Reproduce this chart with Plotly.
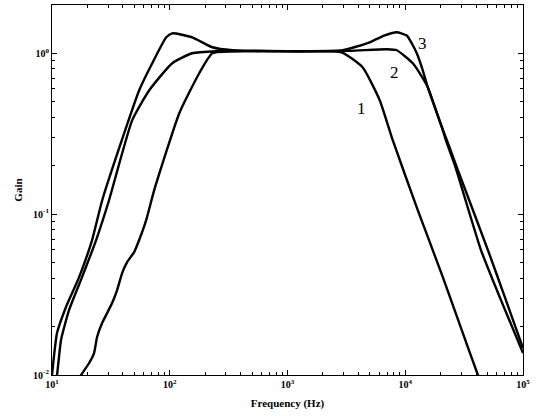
import math
import plotly.graph_objects as go

# Curve 1 (narrowest band)
f1 = [16.5, 17.66, 20.66, 22.77, 24.14, 26.66, 29.39, 32.4, 35.73, 39.4, 43.45, 49.86, 54.98, 63.07, 73.8,
      120.5, 178, 230, 390, 1260, 2880, 4340, 6070, 7830, 12770, 20850, 30830, 41400, 45000]
g1 = [0.0092, 0.01, 0.01187, 0.0137, 0.01722, 0.02104, 0.02427, 0.028, 0.03373, 0.04303, 0.05035, 0.05808, 0.069, 0.0918, 0.141,
      0.424, 0.751, 1.0, 1.03, 1.03, 1.014, 0.818, 0.511, 0.288, 0.106, 0.0406, 0.0182, 0.01, 0.0085]

# Curve 2
f2 = [10.5, 11.03, 11.93, 13.95, 18.0, 23.7, 30.5, 48, 67, 105, 155, 249, 1260, 3370, 6970,
      8470, 11590, 14090, 15530, 20460, 23930, 27990, 50350, 71590, 100000]
g2 = [0.0085, 0.01, 0.0165, 0.0253, 0.0406, 0.069, 0.122, 0.384, 0.589, 0.867, 1.0, 1.03, 1.03, 1.035, 1.059,
      1.044, 0.867, 0.70, 0.615, 0.347, 0.257, 0.1877, 0.0598, 0.0292, 0.01472]

# Curve 3 (widest band, peaked)
f3 = [9.8, 10.0, 11.03, 13.15, 17.0, 21.9, 26.7, 42.7, 55, 71, 93.4, 105, 155, 230, 340, 1260, 2940,
      4990, 6700, 8470, 10300, 11350, 12530, 14090, 15530, 20460, 22130, 26370, 43950, 65020, 100000]
g3 = [0.0085, 0.01, 0.01823, 0.02645, 0.0406, 0.069, 0.122, 0.347, 0.589, 0.867, 1.257, 1.33, 1.257, 1.09, 1.044, 1.03, 1.044,
      1.17, 1.29, 1.35, 1.29, 1.154, 1.0, 0.784, 0.615, 0.347, 0.288, 0.2015, 0.0598, 0.0292, 0.0137]

curve_labels = ["1", "2", "3"]
label_f = [4270, 8150, 14090]
label_g = [0.455, 0.762, 1.154]

x_tickvals = [10, 100, 1000, 10000, 100000]
x_ticktext = ["<b>10<sup>1</sup></b>", "<b>10<sup>2</sup></b>", "<b>10<sup>3</sup></b>",
              "<b>10<sup>4</sup></b>", "<b>10<sup>5</sup></b>"]
y_tickvals = [0.01, 0.1, 1]
y_ticktext = ["<b>10<sup>-2</sup></b>", "<b>10<sup>-1</sup></b>", "<b>10<sup>0</sup></b>"]

x_minor = [m * 10 ** d for d in range(1, 5) for m in range(2, 10)]
y_minor = [m * 10 ** d for d in range(-2, 1) for m in range(2, 10)]

SERIF = "Liberation Serif, Times New Roman, DejaVu Serif, serif"

fig = go.Figure()
for f, g in [(f1, g1), (f2, g2), (f3, g3)]:
    fig.add_trace(go.Scatter(x=f, y=g, mode="lines",
                             line=dict(color="black", width=2.4, shape="spline", smoothing=0.5),
                             showlegend=False, hoverinfo="skip"))

for t, fx, gy in zip(curve_labels, label_f, label_g):
    fig.add_annotation(x=math.log10(fx), y=math.log10(gy), text=t, showarrow=False,
                       font=dict(family=SERIF, size=17, color="black"))

axis_common = dict(
    showline=True, linecolor="black", linewidth=1.2, mirror="ticks",
    ticks="inside", ticklen=5, tickcolor="black", tickwidth=1,
    showgrid=False, zeroline=False,
    tickfont=dict(family=SERIF, size=10, color="black"),
)

fig.update_xaxes(type="log", range=[1, 5], tickmode="array",
                 tickvals=x_tickvals, ticktext=x_ticktext,
                 minor=dict(tickmode="array", tickvals=x_minor, ticks="inside", ticklen=3,
                            tickcolor="black", showgrid=False),
                 title=dict(text="<b>Frequency (Hz)</b>", standoff=10,
                            font=dict(family=SERIF, size=11, color="black")),
                 **axis_common)
fig.update_yaxes(type="log", range=[-2, 0.3], tickmode="array",
                 tickvals=y_tickvals, ticktext=y_ticktext,
                 minor=dict(tickmode="array", tickvals=y_minor, ticks="inside", ticklen=3,
                            tickcolor="black", showgrid=False),
                 title=dict(text="<b>Gain</b>", standoff=8,
                            font=dict(family=SERIF, size=11, color="black")),
                 **axis_common)

fig.update_layout(width=537, height=416, margin=dict(l=52, r=14, t=5, b=41),
                  paper_bgcolor="white", plot_bgcolor="white")

fig.write_html("out.html")
